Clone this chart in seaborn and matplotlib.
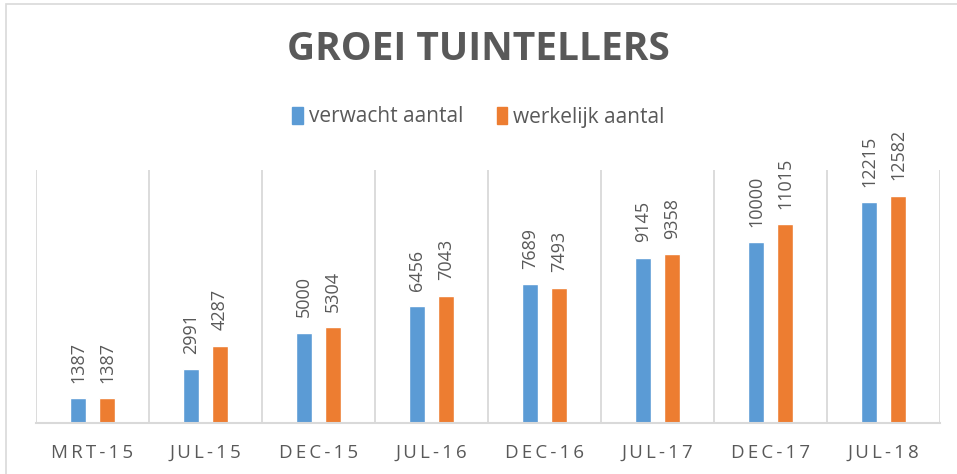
import pandas as pd
import matplotlib.pyplot as plt
import matplotlib.patches as mpatches
import seaborn as sns

# chart data
periods = ["MRT-15", "JUL-15", "DEC-15", "JUL-16", "DEC-16", "JUL-17", "DEC-17", "JUL-18"]
verwacht = [1387, 2991, 5000, 6456, 7689, 9145, 10000, 12215]
werkelijk = [1387, 4287, 5304, 7043, 7493, 9358, 11015, 12582]
series_names = ["verwacht aantal", "werkelijk aantal"]
colors = ["#5B9BD5", "#ED7D31"]

df = pd.DataFrame({
    "periode": periods * 2,
    "aantal": verwacht + werkelijk,
    "serie": [series_names[0]] * len(periods) + [series_names[1]] * len(periods),
})

sns.set_style("white")
plt.rcParams["font.family"] = ["Open Sans", "DejaVu Sans"]
text_grey = "#595959"
grid_grey = "#D9D9D9"

fig = plt.figure(figsize=(9.57, 4.74), dpi=100)
ax = fig.add_axes([36 / 957, 1 - 423 / 474, (940 - 36) / 957, (423 - 170) / 474])

sns.barplot(data=df, x="periode", y="aantal", hue="serie", order=periods,
            hue_order=series_names, palette=colors, width=0.51, gap=0.46,
            saturation=1, ax=ax, legend=False)

ax.set_ylim(0, 14000)
ax.set_xlim(-0.5, len(periods) - 0.5)
ax.set_yticks([])
ax.set_xlabel("")
ax.set_ylabel("")

# vertical separators between categories
ax.set_xticks([i - 0.5 for i in range(len(periods) + 1)], minor=True)
ax.grid(which="minor", axis="x", color=grid_grey, linewidth=1.3)
ax.tick_params(axis="x", which="both", length=0)
ax.set_xticks(range(len(periods)))
ax.set_xticklabels(["\u2009".join(p) for p in periods], color=text_grey, fontsize=13.5)
ax.tick_params(axis="x", pad=15)

for side in ["top", "left", "right"]:
    ax.spines[side].set_visible(False)
ax.spines["bottom"].set_color(grid_grey)
ax.spines["bottom"].set_linewidth(1.5)

# rotated value labels
for container in ax.containers:
    for bar in container:
        h = bar.get_height()
        ax.annotate(f"{int(h)}", (bar.get_x() + bar.get_width() / 2, h),
                    xytext=(0, 11), textcoords="offset points",
                    rotation=90, ha="center", va="bottom",
                    fontsize=13, color=text_grey, clip_on=False)

# title and legend
fig.text(0.5, 1 - 50 / 474, "GROEI TUINTELLERS", ha="center", va="center",
         fontsize=28, fontweight="bold", color=text_grey)
handles = [mpatches.Patch(color=c, label=n) for c, n in zip(colors, series_names)]
fig.legend(handles=handles, loc="center", bbox_to_anchor=(0.5, 1 - 117 / 474),
           ncol=2, frameon=False, fontsize=15, labelcolor=text_grey,
           handlelength=0.5, handleheight=0.85, handletextpad=0.3, columnspacing=1.6)

# outer chart border
fig.patches.append(mpatches.Rectangle((6 / 957, -0.1), 1.2, 1 - 4 / 474 + 0.1,
                                      transform=fig.transFigure, fill=False,
                                      edgecolor=grid_grey, linewidth=1.2))

fig.savefig("out.png", dpi=100)
